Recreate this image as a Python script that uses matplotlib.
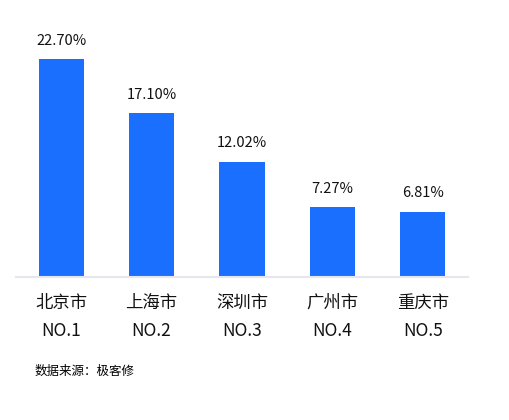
import matplotlib
matplotlib.use("Agg")
import matplotlib.pyplot as plt

plt.rcParams['font.family'] = ['Noto Sans CJK SC', 'DejaVu Sans']

cities = ["北京市", "上海市", "深圳市", "广州市", "重庆市"]
ranks = ["NO.1", "NO.2", "NO.3", "NO.4", "NO.5"]
values = [22.70, 17.10, 12.02, 7.27, 6.81]
value_labels = ["22.70%", "17.10%", "12.02%", "7.27%", "6.81%"]

W, H = 509, 420
fig = plt.figure(figsize=(W/100, H/100), dpi=100)
left, right, top, bottom = 16, 468, 40, 277
ax = fig.add_axes([left/W, 1-bottom/H, (right-left)/W, (bottom-top)/H])

x = list(range(len(cities)))
ax.bar(x, values, width=0.5, color="#1a6fff")
ax.set_xlim(-0.5, len(cities)-0.5)
ax.set_ylim(0, (bottom-top)/218*22.70)

for xi, v, lab in zip(x, values, value_labels):
    ax.annotate(lab, (xi, v), xytext=(0, 8), textcoords="offset points",
                ha="center", va="bottom", fontsize=10.5, color="#111111")

ax.set_xticks(x)
ax.set_xticklabels([f"{c}\n{r}" for c, r in zip(cities, ranks)], fontsize=12.5,
                   color="#111111", linespacing=1.75)
ax.tick_params(axis="x", length=0, pad=12)
ax.set_yticks([])
for s in ["top", "right", "left"]:
    ax.spines[s].set_visible(False)
ax.spines["bottom"].set_color("#e6e6ee")
ax.spines["bottom"].set_linewidth(1.5)

fig.text(35/W, 1-371/H, "数据来源：极客修", fontsize=9, color="#000000",
         ha="left", va="center")

fig.savefig("out.png", dpi=100)
